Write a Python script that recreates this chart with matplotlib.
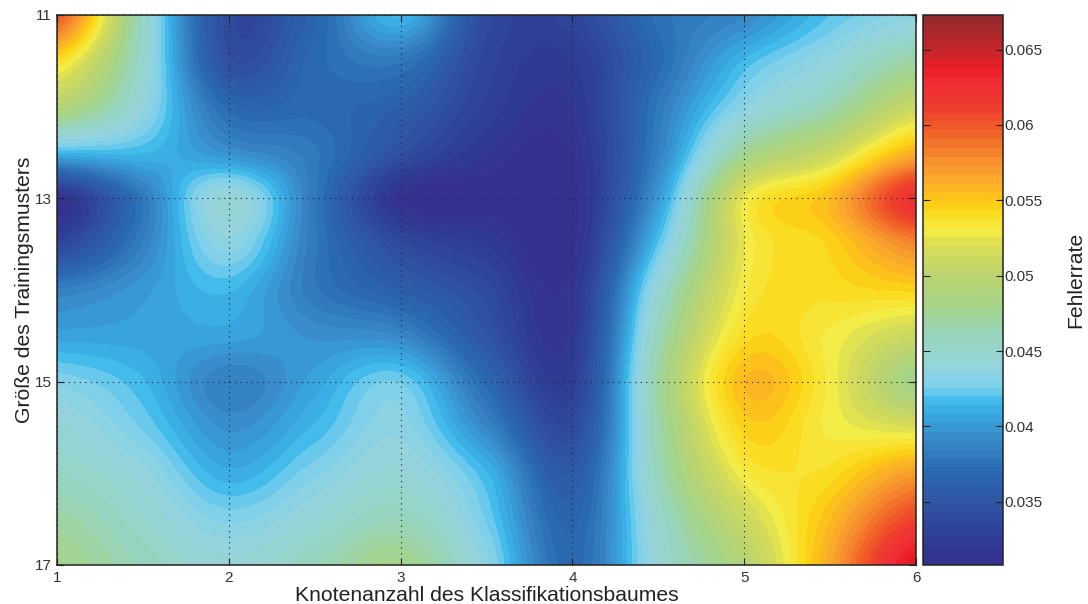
import matplotlib
import matplotlib.pyplot as plt
import numpy as np
from matplotlib.colors import LinearSegmentedColormap, Normalize

matplotlib.use('Agg')
plt.rcParams['font.family'] = ['Liberation Sans', 'DejaVu Sans']

knoten = [1, 2, 3, 4, 5, 6]
muster = [11, 13, 15, 17]

# every half node / every half unit of training size
x_read = [1, 1.5, 2, 2.5, 3, 3.5, 4, 4.5, 5, 5.5, 6]
y_read = [11, 11.5, 12, 12.5, 13, 13.5, 14, 14.5, 15, 15.5, 16, 16.5, 17]
row_110 = [0.060, 0.0455, 0.034, 0.0365, 0.0415, 0.034, 0.0335, 0.0375, 0.039, 0.042, 0.0435]
row_115 = [0.054, 0.045, 0.0345, 0.037, 0.038, 0.0335, 0.0325, 0.037, 0.0415, 0.044, 0.047]
row_120 = [0.0495, 0.044, 0.037, 0.037, 0.036, 0.033, 0.032, 0.038, 0.0435, 0.0465, 0.051]
row_125 = [0.0415, 0.0415, 0.0395, 0.038, 0.0345, 0.032, 0.0315, 0.0385, 0.0475, 0.051, 0.056]
row_130 = [0.0315, 0.038, 0.0445, 0.038, 0.0315, 0.031, 0.031, 0.040, 0.0525, 0.0555, 0.0625]
row_135 = [0.0335, 0.0385, 0.0435, 0.038, 0.034, 0.0325, 0.0312, 0.042, 0.0525, 0.0545, 0.058]
row_140 = [0.0385, 0.040, 0.0415, 0.038, 0.036, 0.034, 0.0318, 0.0445, 0.053, 0.054, 0.0545]
row_145 = [0.0405, 0.0405, 0.0405, 0.0395, 0.039, 0.035, 0.0322, 0.046, 0.054, 0.053, 0.051]
row_150 = [0.043, 0.0415, 0.0385, 0.0405, 0.0425, 0.037, 0.0328, 0.047, 0.0555, 0.053, 0.048]
row_155 = [0.0445, 0.0425, 0.0395, 0.0415, 0.0435, 0.039, 0.034, 0.0465, 0.0545, 0.053, 0.052]
row_160 = [0.0455, 0.044, 0.041, 0.043, 0.0445, 0.0415, 0.0355, 0.046, 0.053, 0.054, 0.057]
row_165 = [0.047, 0.045, 0.043, 0.0445, 0.046, 0.0425, 0.0365, 0.045, 0.051, 0.0555, 0.061]
row_170 = [0.048, 0.046, 0.0445, 0.046, 0.048, 0.0435, 0.037, 0.0445, 0.0495, 0.0565, 0.0645]

cbar_ticks = [0.035, 0.04, 0.045, 0.05, 0.055, 0.06, 0.065]
cbar_labels = ['0.035', '0.04', '0.045', '0.05', '0.055', '0.06', '0.065']

vmin = 0.0308
vmax = 0.0673
stops = [
    (0.0308, '#35318f'), (0.033, '#2e4398'), (0.035, '#2f58a6'), (0.037, '#2a6cb2'),
    (0.039, '#3a8ac8'), (0.0405, '#38a6df'), (0.0415, '#40bbeb'), (0.0425, '#7cd0ee'),
    (0.044, '#96d5dc'), (0.046, '#98d4bc'), (0.048, '#a5d489'), (0.050, '#bcd46f'),
    (0.052, '#d8dd57'), (0.053, '#f5ec45'), (0.0545, '#fcd818'), (0.055, '#fdc816'),
    (0.0565, '#fbab2b'), (0.058, '#f68a2d'), (0.060, '#f15a29'), (0.0615, '#ee3b2f'),
    (0.063, '#ee2d34'), (0.064, '#ed1c24'), (0.065, '#c9252b'), (0.0673, '#962a2e'),
]
cmap = LinearSegmentedColormap.from_list(
    'fehler', [((v - vmin) / (vmax - vmin), c) for v, c in stops], N=62)

W, H = 1088, 604


def pixel_axes(fig, left, top, right, bottom):
    return fig.add_axes([left / W, 1 - bottom / H, (right - left) / W, (bottom - top) / H])


fig = plt.figure(figsize=(W / 100, H / 100), dpi=100)
ax = pixel_axes(fig, 57, 15, 916, 565)

z = np.array([row_110, row_115, row_120, row_125, row_130, row_135, row_140,
              row_145, row_150, row_155, row_160, row_165, row_170])
dx = x_read[1] - x_read[0]
dy = y_read[1] - y_read[0]
im = ax.imshow(z, cmap=cmap, norm=Normalize(vmin, vmax), aspect='auto', origin='upper',
               interpolation='catrom', interpolation_stage='data',
               extent=(x_read[0] - dx / 2, x_read[-1] + dx / 2,
                       y_read[-1] + dy / 2, y_read[0] - dy / 2))
ax.set_xlim(1, 6)
ax.set_ylim(17, 11)
ax.set_xticks(knoten)
ax.set_yticks(muster)
ax.tick_params(direction='in', length=5, width=0.8, labelsize=11, color='#222222',
               labelcolor='#333333', pad=4, top=True, right=True)
ax.grid(True, color='#222222', linestyle=(0, (1, 4)), linewidth=0.8)
for spine in ax.spines.values():
    spine.set_linewidth(1.1)
    spine.set_color('#222222')
ax.set_xlabel('Knotenanzahl des Klassifikationsbaumes', fontsize=15.2, color='#222222', labelpad=1)
ax.set_ylabel('Größe des Trainingsmusters', fontsize=15.2, color='#222222', labelpad=0)

cax = pixel_axes(fig, 923, 15, 1003, 565)
cbar = fig.colorbar(im, cax=cax)
cbar.set_ticks(cbar_ticks)
cbar.set_ticklabels(cbar_labels)
cbar.ax.tick_params(direction='in', length=5, width=0.8, labelsize=11, color='#222222',
                    labelcolor='#333333', left=True, right=True, pad=1)
cbar.outline.set_linewidth(1.1)
cbar.outline.set_edgecolor('#222222')
fig.text(1076 / W, 1 - 280 / H, 'Fehlerrate', rotation=90, fontsize=15.2, color='#222222',
         ha='center', va='center')

fig.savefig('out.png', dpi=100)
